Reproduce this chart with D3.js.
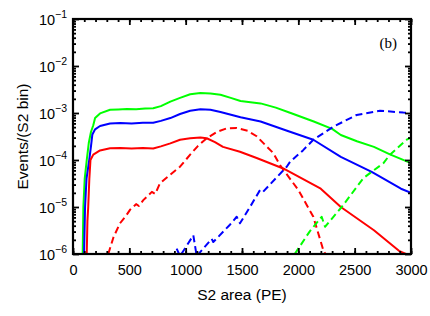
<!DOCTYPE html>
<html>
<head>
<meta charset="utf-8">
<script src="https://cdn.jsdelivr.net/npm/d3@7"></script>
<style>
    body { margin: 0; background: #fff; }
    .line { fill: none; stroke-width: 2; stroke-linejoin: round; }
    .dash { stroke-dasharray: 7, 4; }
    .axis line { stroke: #000; stroke-width: 1.8; }
    .axis path { display: none; }
    .axis text { font-family: "Liberation Sans", Arial, sans-serif; font-size: 14.5px; fill: #000; }
    .title { font-family: "Liberation Sans", Arial, sans-serif; font-size: 15.5px; fill: #000; }
</style>
</head>
<body>
<svg id="chart"></svg>
<script>
// data: [S2 area (PE), events per S2 bin]
var greenSolid = [[86,1e-6],[92,1e-5],[104,4e-5],[122,1e-4],[140,2.3e-4],[160,4e-4],[180,5.5e-4],[196,7.8e-4],
    [240,9.8e-4],[329,1.17e-3],[400,1.19e-3],[480,1.22e-3],[560,1.2e-3],[640,1.24e-3],[712,1.26e-3],[780,1.4e-3],
    [864,1.75e-3],[950,2.1e-3],[1040,2.5e-3],[1131,2.65e-3],[1220,2.6e-3],[1309,2.45e-3],[1400,2.1e-3],[1487,1.8e-3],
    [1575,1.7e-3],[1665,1.6e-3],[1800,1.3e-3],[1932,1.0e-3],[2137,6.6e-4],[2300,4.6e-4],[2377,3.4e-4],[2520,2.5e-4],
    [2671,1.9e-4],[2813,1.32e-4],[2973,9.1e-5],[3000,8.5e-5]];
var blueSolid = [[98,1e-6],[107,1e-5],[120,4e-5],[144,1e-4],[160,2e-4],[172,3.5e-4],[196,4.5e-4],[240,5.3e-4],
    [329,6e-4],[420,6.1e-4],[520,6e-4],[620,6.2e-4],[712,6.2e-4],[780,6.8e-4],[864,7.8e-4],[950,9.5e-4],
    [1040,1.12e-3],[1131,1.2e-3],[1220,1.17e-3],[1309,1.05e-3],[1487,8.1e-4],[1665,6.6e-4],[1900,4.2e-4],
    [2133,2.7e-4],[2377,1.17e-4],[2651,5.6e-5],[2911,2.45e-5],[3000,2e-5]];
var redSolid = [[122,1e-6],[128,5e-6],[135,1e-5],[145,4e-5],[155,1e-4],[180,1.3e-4],[240,1.6e-4],[329,1.78e-4],
    [420,1.8e-4],[520,1.75e-4],[620,1.8e-4],[712,1.75e-4],[780,1.95e-4],[864,2.26e-4],[950,2.7e-4],[1040,2.9e-4],
    [1131,3e-4],[1187,2.9e-4],[1260,2.4e-4],[1331,1.9e-4],[1482,1.5e-4],[1630,1.1e-4],[1866,6.6e-5],[2199,2.45e-5],
    [2377,1e-5],[2671,3.2e-6],[2893,1.17e-6],[2955,1e-6]];
var redDashed = [[313,1e-6],[360,2.3e-6],[417,4.5e-6],[470,6.5e-6],[506,8.7e-6],[560,1.15e-5],[585,1.05e-5],
    [624,1.4e-5],[700,2.1e-5],[730,1.9e-5],[772,3.2e-5],[860,4.8e-5],[950,7.2e-5],[1040,1.3e-4],[1110,2e-4],
    [1187,2.9e-4],[1280,4e-4],[1364,4.7e-4],[1453,4.8e-4],[1550,4.2e-4],[1630,3.2e-4],[1778,1.4e-4],[1837,7.8e-5],
    [2000,2.3e-5],[2133,6.2e-6],[2222,1.2e-6],[2240,1e-6]];
var blueDashed = [[920,1.3e-6],[950,9e-7],[1068,2.5e-6],[1098,9e-7],[1231,2.1e-6],[1245,1.8e-6],[1393,4.2e-6],
    [1453,6.2e-6],[1482,4.5e-6],[1571,1e-5],[1660,2.3e-5],[1686,2.1e-5],[1897,7.2e-5],[1926,9.1e-5],[2041,1.6e-4],
    [2133,2.7e-4],[2310,5.1e-4],[2518,9.1e-4],[2725,1.12e-3],[2932,1.02e-3],[3000,1e-3]];
var greenDashed = [[1968,1e-6],[2100,3e-6],[2207,6.2e-6],[2237,3.8e-6],[2385,1e-5],[2577,4.1e-5],[2651,5.6e-5],
    [2754,8.5e-5],[2813,1.3e-4],[2962,2.7e-4],[3000,3e-4]];

var series = [
    {values: greenSolid, color: '#00ff00', dashed: false},
    {values: blueSolid, color: '#0000ff', dashed: false},
    {values: redSolid, color: '#ff0000', dashed: false},
    {values: redDashed, color: '#ff0000', dashed: true},
    {values: blueDashed, color: '#0000ff', dashed: true},
    {values: greenDashed, color: '#00ff00', dashed: true}
];

var xMajor = [0, 500, 1000, 1500, 2000, 2500, 3000];
var xMinor = d3.range(0, 3001, 100);
var yMajor = [1e-6, 1e-5, 1e-4, 1e-3, 1e-2, 1e-1];

var margin = {top: 19, right: 19, bottom: 62, left: 73};
var width = 430 - margin.left - margin.right;
var height = 316 - margin.top - margin.bottom;

var svg = d3.select('#chart')
    .attr('width', width + margin.left + margin.right)
    .attr('height', height + margin.top + margin.bottom)
    .append('g')
    .attr('transform', `translate(${margin.left}, ${margin.top})`);

var xScale = d3.scaleLinear().domain([0, 3000]).range([0, width]);
var yScale = d3.scaleLog().domain([1e-6, 1e-1]).range([height, 0]);
var yMinor = yScale.ticks().filter(d => yMajor.indexOf(d) < 0);

svg.append('clipPath').attr('id', 'clip')
    .append('rect').attr('width', width).attr('height', height);

// lines
var line = d3.line()
    .x(d => xScale(d[0]))
    .y(d => yScale(d[1]));

svg.append('g').attr('clip-path', 'url(#clip)')
    .selectAll('path')
    .data(series)
    .enter().append('path')
    .attr('class', d => d.dashed ? 'line dash' : 'line')
    .attr('stroke', d => d.color)
    .attr('d', d => line(d.values));

// ticks, pointing inward on all four sides
svg.append('g').attr('class', 'axis')
    .attr('transform', `translate(0, ${height})`)
    .call(d3.axisBottom(xScale).tickValues(xMinor).tickSize(-3).tickSizeOuter(0).tickFormat(''));
svg.append('g').attr('class', 'axis')
    .attr('transform', `translate(0, ${height})`)
    .call(d3.axisBottom(xScale).tickValues(xMajor).tickSize(-6).tickSizeOuter(0).tickPadding(11)
        .tickFormat(d3.format('d')));
svg.append('g').attr('class', 'axis')
    .call(d3.axisTop(xScale).tickValues(xMinor).tickSize(-3).tickSizeOuter(0).tickFormat(''));
svg.append('g').attr('class', 'axis')
    .call(d3.axisTop(xScale).tickValues(xMajor).tickSize(-6).tickSizeOuter(0).tickFormat(''));

svg.append('g').attr('class', 'axis')
    .call(d3.axisLeft(yScale).tickValues(yMinor).tickSize(-3).tickSizeOuter(0).tickFormat(''));
var yAxis = svg.append('g').attr('class', 'axis')
    .call(d3.axisLeft(yScale).tickValues(yMajor).tickSize(-6).tickSizeOuter(0).tickPadding(6));
svg.append('g').attr('class', 'axis')
    .attr('transform', `translate(${width}, 0)`)
    .call(d3.axisRight(yScale).tickValues(yMinor).tickSize(-3).tickSizeOuter(0).tickFormat(''));
svg.append('g').attr('class', 'axis')
    .attr('transform', `translate(${width}, 0)`)
    .call(d3.axisRight(yScale).tickValues(yMajor).tickSize(-6).tickSizeOuter(0).tickFormat(''));

// 10^n labels
yAxis.selectAll('.tick text').each(function (d) {
    var t = d3.select(this).text('').attr('dy', '5.5');
    t.append('tspan').text('10');
    t.append('tspan').attr('dy', -7).style('font-size', '10.5px')
        .text('\u2212' + Math.abs(Math.round(Math.log10(d))));
});

// frame
svg.append('rect')
    .attr('width', width)
    .attr('height', height)
    .attr('fill', 'none')
    .attr('stroke', '#000')
    .attr('stroke-width', 2.2);

// labels
svg.append('text')
    .attr('class', 'title')
    .attr('x', width / 2)
    .attr('y', height + 46)
    .style('text-anchor', 'middle')
    .text('S2 area (PE)');

svg.append('text')
    .attr('class', 'title')
    .attr('transform', 'rotate(-90)')
    .attr('x', -height / 2)
    .attr('y', -45)
    .style('text-anchor', 'middle')
    .text('Events/(S2 bin)');

svg.append('text')
    .attr('x', width - 14)
    .attr('y', 29)
    .style('text-anchor', 'end')
    .style('font-family', '"Liberation Serif", "Times New Roman", serif')
    .style('font-size', '15px')
    .text('(b)');
</script>
</body>
</html>
